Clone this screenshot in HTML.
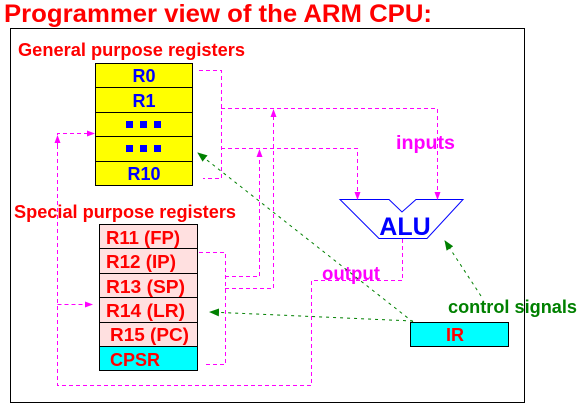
<!DOCTYPE html>
<html><head><style>
body{margin:0;width:578px;height:407px;background:#fff;overflow:hidden}
svg text{font-family:"Liberation Sans",Arial,sans-serif;font-weight:bold}
</style></head><body>
<svg width="578" height="407" viewBox="0 0 578 407" xmlns="http://www.w3.org/2000/svg">
<defs>
<marker id="m" markerWidth="8" markerHeight="8" refX="7" refY="4" orient="auto" markerUnits="userSpaceOnUse"><path d="M0,1 L8,4 L0,7 Z" fill="#ff00ff"/></marker>
<marker id="g" markerWidth="10" markerHeight="8" refX="9" refY="4" orient="auto" markerUnits="userSpaceOnUse"><path d="M0,0 L10,4 L0,8 Z" fill="#008000"/></marker>
</defs>
<text x="4" y="22" font-size="25" fill="#ff0000" textLength="428" lengthAdjust="spacingAndGlyphs">Programmer view of the ARM CPU:</text>
<rect x="10.5" y="28.5" width="514" height="374" fill="none" stroke="#000" stroke-width="1"/>
<text x="18" y="56" font-size="18" fill="#ff0000" textLength="227" lengthAdjust="spacingAndGlyphs">General purpose registers</text>
<text x="14" y="218" font-size="18" fill="#ff0000" textLength="222" lengthAdjust="spacingAndGlyphs">Special purpose registers</text>
<g stroke="#000" stroke-width="1">
<rect x="95.5" y="63.5" width="97" height="24" fill="#ffff00"/>
<rect x="95.5" y="87.5" width="97" height="25" fill="#ffff00"/>
<rect x="95.5" y="112.5" width="97" height="24" fill="#ffff00"/>
<rect x="95.5" y="136.5" width="97" height="25" fill="#ffff00"/>
<rect x="95.5" y="161.5" width="97" height="24" fill="#ffff00"/>
</g>
<g font-size="18" fill="#0000ff" text-anchor="middle">
<text x="144" y="82">R0</text><text x="144" y="107">R1</text><text x="144" y="180">R10</text>
</g>
<g fill="#0000ff"><rect x="126" y="121" width="7" height="7"/><rect x="140" y="121" width="7" height="7"/><rect x="154" y="121" width="7" height="7"/>
<rect x="126" y="145" width="7" height="7"/><rect x="140" y="145" width="7" height="7"/><rect x="154" y="145" width="7" height="7"/></g>
<g stroke="#000" stroke-width="1">
<rect x="99.5" y="224.5" width="98" height="24" fill="#ffe0e0"/>
<rect x="99.5" y="248.5" width="98" height="25" fill="#ffe0e0"/>
<rect x="99.5" y="273.5" width="98" height="24" fill="#ffe0e0"/>
<rect x="99.5" y="297.5" width="98" height="25" fill="#ffe0e0"/>
<rect x="99.5" y="322.5" width="98" height="24" fill="#ffe0e0"/>
<rect x="99.5" y="346.5" width="98" height="24" fill="#00ffff"/>
</g>
<g font-size="18" fill="#ff0000">
<text x="106" y="244" textLength="74" lengthAdjust="spacingAndGlyphs">R11 (FP)</text>
<text x="106" y="268" textLength="70" lengthAdjust="spacingAndGlyphs">R12  (IP)</text>
<text x="106" y="293" textLength="79" lengthAdjust="spacingAndGlyphs">R13  (SP)</text>
<text x="106" y="317" textLength="79" lengthAdjust="spacingAndGlyphs">R14  (LR)</text>
<text x="110" y="341" textLength="79" lengthAdjust="spacingAndGlyphs">R15  (PC)</text>
<text x="110" y="366">CPSR</text>
</g>
<path d="M340,199.5 L389,199.5 L402,212 L416,199.5 L463,199.5 L427,238.5 L379,238.5 Z" fill="#fff" stroke="#0000ff" stroke-width="1"/>
<text x="405" y="235" font-size="25" fill="#0000ff" text-anchor="middle">ALU</text>
<rect x="410.5" y="322.5" width="98" height="24" fill="#00ffff" stroke="#000"/>
<text x="455" y="341" font-size="18" fill="#ff0000" text-anchor="middle">IR</text>
<text x="396" y="149" font-size="19" fill="#ff00ff" textLength="59" lengthAdjust="spacingAndGlyphs">inputs</text>
<text x="322" y="280" font-size="19" fill="#ff00ff" textLength="58" lengthAdjust="spacingAndGlyphs">output</text>
<text x="448" y="313" font-size="18" fill="#008000" textLength="129" lengthAdjust="spacingAndGlyphs">control signals</text>
<g fill="none" stroke="#ff00ff" stroke-width="1" stroke-dasharray="4,3">
<path d="M199,70.5 H221.5 V178.5 H203"/>
<path d="M221,108.5 H437.5 V199" marker-end="url(#m)"/>
<path d="M221,148.5 H357.5 V199" marker-end="url(#m)"/>
<path d="M273.5,288 V110" marker-end="url(#m)"/>
<path d="M259.5,276 V150" marker-end="url(#m)"/>
<path d="M199,252.5 H225.5 V364.5 H206"/>
<path d="M225,276.5 H259.5"/>
<path d="M225,288.5 H273.5"/>
<path d="M402.5,239 V280.5 H311.5 V385.5 H57.5 V133.5 H94" marker-end="url(#m)"/>
<path d="M57.5,304.5 H92" marker-end="url(#m)"/>
<path d="M57.5,145 V136" marker-end="url(#m)"/>
</g>
<g fill="none" stroke="#008000" stroke-width="1" stroke-dasharray="3,4">
<path d="M413,322 L198,153" marker-end="url(#g)"/>
<path d="M413,321 L300,316 L210,312" marker-end="url(#g)"/>
<path d="M481,296 L445,241" marker-end="url(#g)"/>
</g>
</svg>
</body></html>
